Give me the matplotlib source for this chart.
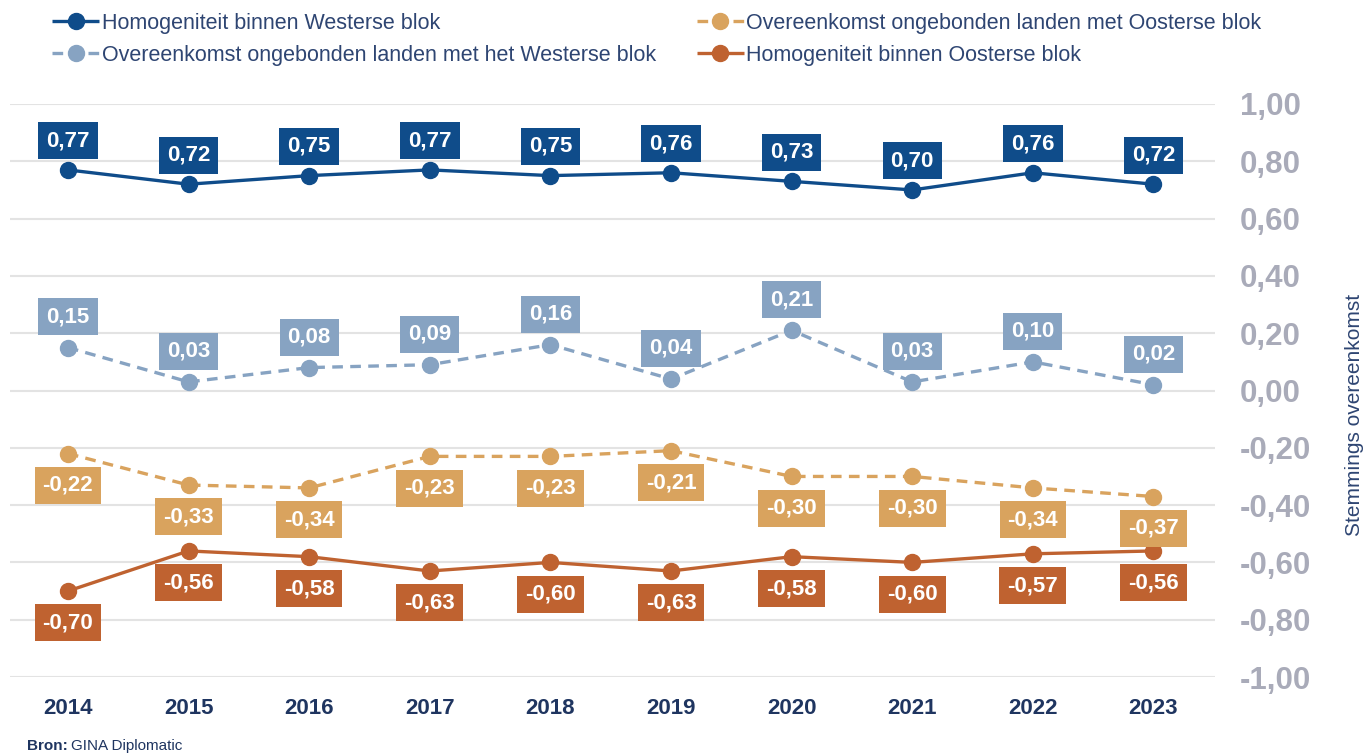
import matplotlib
matplotlib.use("Agg")
import matplotlib.pyplot as plt

plt.rcParams['font.family'] = ['Liberation Sans', 'DejaVu Sans']

years = [2014, 2015, 2016, 2017, 2018, 2019, 2020, 2021, 2022, 2023]
west_homog = [0.77, 0.72, 0.75, 0.77, 0.75, 0.76, 0.73, 0.70, 0.76, 0.72]
nonaligned_west = [0.15, 0.03, 0.08, 0.09, 0.16, 0.04, 0.21, 0.03, 0.10, 0.02]
nonaligned_east = [-0.22, -0.33, -0.34, -0.23, -0.23, -0.21, -0.30, -0.30, -0.34, -0.37]
east_homog = [-0.70, -0.56, -0.58, -0.63, -0.60, -0.63, -0.58, -0.60, -0.57, -0.56]
yticks = [1.0, 0.8, 0.6, 0.4, 0.2, 0.0, -0.2, -0.4, -0.6, -0.8, -1.0]

names = {
    'w': "Homogeniteit binnen Westerse blok",
    'lb': "Overeenkomst ongebonden landen met het Westerse blok",
    'lo': "Overeenkomst ongebonden landen met Oosterse blok",
    'o': "Homogeniteit binnen Oosterse blok",
}

C_W = '#0f4c8a'
C_LB = '#87a3c2'
C_LO = '#d9a35e'
C_O = '#bf6230'
C_TICK = '#a9abb9'
C_NAVY = '#1f3560'
C_LEG = '#2e4572'

def fmt(v):
    return f"{v:.2f}".replace('.', ',')

fig = plt.figure(figsize=(13.68, 7.56), dpi=100)
ax = fig.add_axes([10/1368, 1-677/756, (1215-10)/1368, (677-104)/756])
ax.set_xlim(2013.52, 2023.51)
ax.set_ylim(-1.0, 1.0)

for s in ax.spines.values():
    s.set_visible(False)
ax.set_yticks(yticks)
ax.set_yticklabels([fmt(v) for v in yticks])
ax.yaxis.tick_right()
ax.tick_params(axis='y', length=0, pad=18, labelsize=22.5, labelcolor=C_TICK)
for t in ax.get_yticklabels():
    t.set_fontweight('bold')
ax.set_xticks(years)
ax.set_xticklabels([str(y) for y in years])
ax.tick_params(axis='x', length=0, pad=15, labelsize=16, labelcolor=C_NAVY)
for t in ax.get_xticklabels():
    t.set_fontweight('bold')
ax.grid(axis='y', color='#e3e3e3', linewidth=1.5)
ax.set_axisbelow(True)

series = [
    (west_homog, C_W, '-', names['w'], 21),
    (nonaligned_west, C_LB, '--', names['lb'], 22),
    (nonaligned_east, C_LO, '--', names['lo'], -23),
    (east_homog, C_O, '-', names['o'], -23),
]
handles = {}
for vals, col, ls, name, off in series:
    kw = dict(color=col, lw=2.4, marker='o', markersize=11.5, solid_capstyle='butt')
    if ls == '--':
        line, = ax.plot(years, vals, linestyle='--', dashes=(3.2, 2.2), **kw)
    else:
        line, = ax.plot(years, vals, linestyle='-', **kw)
    handles[name] = line
    for x, v in zip(years, vals):
        ax.annotate(fmt(v), (x, v), xytext=(0, off), textcoords='offset points',
                    ha='center', va='center', fontsize=16, fontweight='bold',
                    color='white',
                    bbox=dict(boxstyle='square,pad=0.36', fc=col, ec='none'))

order = [names['w'], names['lb'], names['lo'], names['o']]
leg = fig.legend([handles[n] for n in order], order, loc='upper left',
                 bbox_to_anchor=(52/1368, 1-13/756), ncol=2, frameon=False,
                 fontsize=15.5, handlelength=2.2, handletextpad=0.1,
                 columnspacing=1.9, labelspacing=0.5, borderpad=0,
                 borderaxespad=0, numpoints=1)
for t in leg.get_texts():
    t.set_color(C_LEG)

fig.text(1355/1368, 1-415/756, "Stemmings overeenkomst", rotation=90,
         ha='center', va='center', fontsize=15, color=C_LEG)

fig.text(27/1368, 1-746/756, "Bron:", fontsize=11, fontweight='bold',
         color=C_NAVY, ha='left', va='center')
fig.text(71/1368, 1-746/756, "GINA Diplomatic", fontsize=11,
         color=C_NAVY, ha='left', va='center')

fig.savefig('out.png', dpi=100)
